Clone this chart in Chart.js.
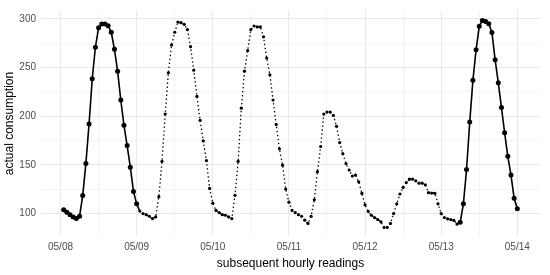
<!DOCTYPE html>
<html><head><meta charset="utf-8">
<script src="https://cdn.jsdelivr.net/npm/chart.js@4.4.1/dist/chart.umd.min.js"></script>
<style>html,body{margin:0;padding:0;background:#fff}</style>
</head><body>
<canvas id="c" width="550" height="275"></canvas>
<script>
// tick labels (one per day, at 00:00)
const dayLabels = ['05/08','05/09','05/10','05/11','05/12','05/13','05/14'];
// hourly readings 01:00 .. 24:00 of each day
const may08 = [104.0,101.3,98.9,96.6,94.9,97.3,118.5,151.5,192.1,238.5,270.8,290.9,294.6,294.6,292.9,286.2,268.7,246.2,216.6,190.7,169.9,147.7,122.8,110.0];
const may09 = [102.6,100.0,98.9,97.3,94.9,96.6,117.4,153.7,202.2,244.5,273.1,286.2,296.6,296.0,294.3,288.9,271.4,247.2,220.3,195.8,174.6,154.4,125.8,110.7];
const may10 = [103.3,101.0,98.9,98.3,96.6,94.9,118.8,153.7,208.2,246.2,267.4,288.9,292.6,291.6,291.6,281.5,259.7,242.5,216.6,191.4,166.5,149.7,125.2,111.7];
const may11 = [103.3,101.0,98.9,97.3,93.2,89.9,97.3,114.1,143.0,168.9,202.2,204.2,204.2,200.8,189.7,172.9,161.5,151.4,144.7,138.6,139.6,132.6,120.8,109.0];
const may12 = [102.3,98.3,95.9,93.9,91.6,85.8,85.8,89.9,100.0,110.0,120.1,126.9,131.9,135.3,135.3,133.6,131.2,131.2,129.5,121.5,121.1,120.8,110.0,100.0];
const may13 = [96.0,94.6,93.9,93.0,89.2,91.0,110.0,145.3,194.1,236.8,268.1,292.3,298.3,297.3,295.0,285.9,258.0,234.4,208.9,183.0,158.8,139.6,115.8,105.0];
// highlighted (solid) stretches, in hours counted from 05/08 00:00
const solidSpans = [[1,24],[126,144]];

const values = [].concat(may08, may09, may10, may11, may12, may13);
const points = values.map((v, i) => ({x: i + 1, y: v}));
const isSolid = i => { const h = i + 1; return solidSpans.some(s => h >= s[0] && h <= s[1]); };

const xTicks = []; for (let h = 0; h <= 24 * (dayLabels.length - 1); h += 12) xTicks.push(h);
const yTicks = [100,125,150,175,200,225,250,275,300];
const FAM = '"Liberation Sans", Arial, sans-serif';

new Chart(document.getElementById('c'), {
  type: 'line',
  data: { datasets: [{
    data: points,
    borderColor: '#000',
    backgroundColor: '#000',
    borderWidth: 1.4,
    tension: 0,
    fill: false,
    pointRadius: ctx => isSolid(ctx.dataIndex) ? 2.5 : 1.6,
    pointBackgroundColor: '#000',
    pointBorderWidth: 0,
    pointHoverRadius: 0,
    segment: {
      borderDash: ctx => isSolid(ctx.p0DataIndex) ? [] : [1.4, 2.6],
      borderWidth: ctx => isSolid(ctx.p0DataIndex) ? 1.6 : 1.3
    }
  }]},
  options: {
    responsive: false, animation: false, devicePixelRatio: 1,
    layout: { padding: { left: 0, right: 10, top: 7, bottom: 0 } },
    plugins: { legend: { display: false }, tooltip: { enabled: false } },
    scales: {
      x: {
        type: 'linear', min: -6.15, max: 151.15,
        afterBuildTicks: s => { s.ticks = xTicks.map(v => ({value: v})); },
        afterFit: s => { s.height = 39; },
        border: { display: false },
        grid: {
          drawTicks: false,
          color: ctx => (ctx.tick && ctx.tick.value % 24 === 0) ? '#e8e8e8' : '#f0f0f0',
          lineWidth: ctx => (ctx.tick && ctx.tick.value % 24 === 0) ? 1 : 0.8
        },
        ticks: {
          padding: 5, maxRotation: 0, autoSkip: false, color: '#4d4d4d',
          font: { family: FAM, size: 10 },
          callback: v => (v % 24 === 0) ? dayLabels[v / 24] : ''
        },
        title: { display: true, text: 'subsequent hourly readings', color: '#000',
          font: { family: FAM, size: 12 }, padding: { top: 0, bottom: 4 } }
      },
      y: {
        min: 77, max: 308,
        afterBuildTicks: s => { s.ticks = yTicks.map(v => ({value: v})); },
        afterFit: s => { s.width = 41; },
        border: { display: false },
        grid: {
          drawTicks: false,
          color: ctx => (ctx.tick && ctx.tick.value % 50 === 0) ? '#e8e8e8' : '#f0f0f0',
          lineWidth: ctx => (ctx.tick && ctx.tick.value % 50 === 0) ? 1 : 0.8
        },
        ticks: {
          padding: 5, color: '#4d4d4d',
          font: { family: FAM, size: 10 },
          callback: v => (v % 50 === 0) ? String(v) : ''
        },
        title: { display: true, text: 'actual consumption', color: '#000',
          font: { family: FAM, size: 12 }, padding: { top: 2, bottom: 0 } }
      }
    }
  }
});
</script>
</body></html>
